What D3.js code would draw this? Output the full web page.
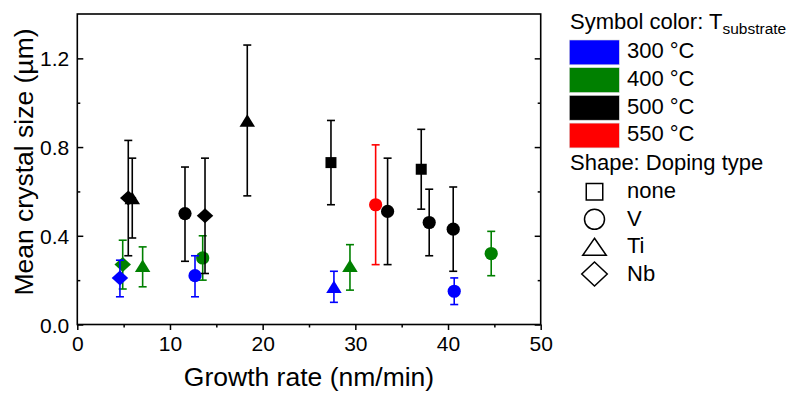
<!DOCTYPE html>
<html><head><meta charset="utf-8">
<script src="https://cdn.jsdelivr.net/npm/d3@7"></script>
<style>
html,body{margin:0;padding:0;background:#fff;}
svg{display:block;font-family:"Liberation Sans",Arial,sans-serif;}
</style></head>
<body>
<svg id="chart" width="789" height="394"></svg>
<script>
// ---- data ----
const growthRate  = [4.6, 4.9, 7.05, 12.7, 13.53, 5.5, 5.93, 11.62, 13.78, 18.34, 27.37, 32.19, 33.48, 37.11, 37.97, 40.56, 40.67, 27.69, 29.42, 44.66];
const crystalSize = [0.21, 0.27, 0.265, 0.22, 0.30, 0.57, 0.57, 0.50, 0.49, 0.92, 0.73, 0.54, 0.51, 0.70, 0.46, 0.43, 0.15, 0.17, 0.265, 0.32];
const errLower    = [0.125, 0.16, 0.17, 0.125, 0.20, 0.31, 0.39, 0.285, 0.23, 0.58, 0.54, 0.27, 0.27, 0.52, 0.31, 0.24, 0.09, 0.10, 0.155, 0.22];
const errUpper    = [0.29, 0.38, 0.35, 0.31, 0.40, 0.83, 0.75, 0.71, 0.75, 1.26, 0.92, 0.81, 0.75, 0.88, 0.61, 0.62, 0.21, 0.24, 0.36, 0.42];
const temperature = [300, 400, 400, 300, 400, 500, 500, 500, 500, 500, 500, 550, 500, 500, 500, 500, 300, 300, 400, 400];
const doping      = ["Nb","Nb","Ti","V","V","Nb","Ti","V","Nb","Ti","none","V","V","none","V","V","V","Ti","Ti","V"];

const tempLevels  = [300, 400, 500, 550];
const tempLabels  = ["300 °C", "400 °C", "500 °C", "550 °C"];
const tempColors  = ["#0000ff", "#008000", "#000000", "#ff0000"];
const dopingTypes = ["none", "V", "Ti", "Nb"];
const xTicks = [0, 10, 20, 30, 40, 50];
const xMinor = [5, 15, 25, 35, 45];
const yTicks = [0, 0.4, 0.8, 1.2];
const yMinor = [0.2, 0.6, 1.0];
const xTitle = "Growth rate (nm/min)";
const yTitle = "Mean crystal size (µm)";

// ---- layout ----
const svg = d3.select("#chart");
const L = 77.3, R = 540.7, T = 14, B = 324.5;
const x = d3.scaleLinear().domain([0, 50]).range([L, R]);
const y = d3.scaleLinear().domain([0, 1.4]).range([B, T]);
const color = d3.scaleOrdinal().domain(tempLevels).range(tempColors);

// marker path generator (centred on bounding box)
function shapePath(type, s) {
  const p = d3.path();
  if (type === "V") { p.arc(0, 0, s.r, 0, 2 * Math.PI); }
  else if (type === "none") { const h = s.sq / 2; p.rect(-h, -h, s.sq, s.sq); }
  else if (type === "Ti") { const w = s.tw / 2, h = s.th / 2; p.moveTo(0, -h); p.lineTo(w, h); p.lineTo(-w, h); p.closePath(); }
  else if (type === "Nb") { const w = s.dw / 2, h = s.dh / 2; p.moveTo(0, -h); p.lineTo(w, 0); p.lineTo(0, h); p.lineTo(-w, 0); p.closePath(); }
  return p.toString();
}
const plotSize = {r: 6.6, sq: 11, tw: 15.5, th: 12.5, dw: 16.5, dh: 15};
const legSize  = {r: 10, sq: 16.5, tw: 23.5, th: 17, dw: 25.5, dh: 24};

// ---- axes ----
const axFont = "21px";
svg.append("g").attr("transform", `translate(0,${B})`)
  .call(d3.axisBottom(x).tickValues(xTicks).tickSize(5.5).tickPadding(6).tickFormat(d3.format("d")));
svg.append("g").attr("transform", `translate(0,${B})`)
  .call(d3.axisBottom(x).tickValues(xMinor).tickSize(3).tickFormat(""));
const gL = svg.append("g").attr("transform", `translate(${L},0)`)
  .call(d3.axisLeft(y).tickValues(yTicks).tickSizeInner(-6).tickSizeOuter(0).tickPadding(8).tickFormat(d3.format(".1f")));
svg.append("g").attr("transform", `translate(${L},0)`)
  .call(d3.axisLeft(y).tickValues(yMinor).tickSizeInner(-3).tickSizeOuter(0).tickFormat(""));
svg.append("g").attr("transform", `translate(${R},0)`)
  .call(d3.axisRight(y).tickValues(yTicks).tickSizeInner(-6).tickSizeOuter(0).tickFormat(""));
svg.append("g").attr("transform", `translate(${R},0)`)
  .call(d3.axisRight(y).tickValues(yMinor).tickSizeInner(-3).tickSizeOuter(0).tickFormat(""));
svg.selectAll(".domain").remove();
svg.selectAll(".tick line").attr("stroke", "#000").attr("stroke-width", 1.5);
svg.selectAll(".tick text").attr("fill", "#000").style("font-size", axFont).style("font-family", "Liberation Sans, Arial, sans-serif");
gL.selectAll(".tick text").attr("dy", "0.36em");

// frame
svg.append("rect").attr("x", L).attr("y", T).attr("width", R - L).attr("height", B - T)
  .attr("fill", "none").attr("stroke", "#000").attr("stroke-width", 1.6);

// axis titles
svg.append("text").attr("x", (L + R) / 2).attr("y", 386).attr("text-anchor", "middle")
  .style("font-size", "26.5px").text(xTitle);
svg.append("text").attr("transform", `translate(33,162) rotate(-90)`).attr("text-anchor", "middle")
  .style("font-size", "26.5px").text(yTitle);

// ---- points ----
const pts = growthRate.map((g, i) => ({g, v: crystalSize[i], lo: errLower[i], hi: errUpper[i], t: temperature[i], d: doping[i]}));
const drawOrder = [400, 300, 550, 500];
const sorted = drawOrder.flatMap(t => pts.filter(p => p.t === t));
const cap = 4;
const pg = svg.append("g");
sorted.forEach(p => {
  const c = color(p.t), cx = x(p.g);
  const g = pg.append("g").attr("stroke", c).attr("stroke-width", 1.6);
  g.append("line").attr("x1", cx).attr("x2", cx).attr("y1", y(p.lo)).attr("y2", y(p.hi));
  g.append("line").attr("x1", cx - cap).attr("x2", cx + cap).attr("y1", y(p.lo)).attr("y2", y(p.lo));
  g.append("line").attr("x1", cx - cap).attr("x2", cx + cap).attr("y1", y(p.hi)).attr("y2", y(p.hi));
  pg.append("path").attr("d", shapePath(p.d, plotSize))
    .attr("transform", `translate(${cx},${y(p.v)})`).attr("fill", c).attr("stroke", "none");
});

// ---- legend ----
const legFont = "22px";
const lg = svg.append("g");
const t1 = lg.append("text").attr("x", 570).attr("y", 28.7).style("font-size", legFont);
t1.append("tspan").text("Symbol color: T");
t1.append("tspan").attr("dy", 5).style("font-size", "15.5px").text("substrate");
tempLevels.forEach((t, i) => {
  const yy = 40 + i * 27.7;
  lg.append("rect").attr("x", 569.3).attr("y", yy).attr("width", 50).attr("height", 24.8)
    .attr("fill", color(t)).attr("stroke", "#d8d8d8").attr("stroke-width", 0.6);
  lg.append("text").attr("x", 627).attr("y", yy + 18.3).style("font-size", legFont).text(tempLabels[i]);
});
lg.append("text").attr("x", 570).attr("y", 170).style("font-size", legFont).text("Shape: Doping type");
const shapeY = [191.7, 219.3, 246.7, 274];
const shapeLabelY = [198.3, 226, 253.3, 280.5];
dopingTypes.forEach((d, i) => {
  lg.append("path").attr("d", shapePath(d, legSize)).attr("transform", `translate(594.5,${shapeY[i]})`)
    .attr("fill", "#fff").attr("stroke", "#000").attr("stroke-width", 1.5);
  lg.append("text").attr("x", 627).attr("y", shapeLabelY[i]).style("font-size", legFont).text(d);
});
</script>
</body></html>
